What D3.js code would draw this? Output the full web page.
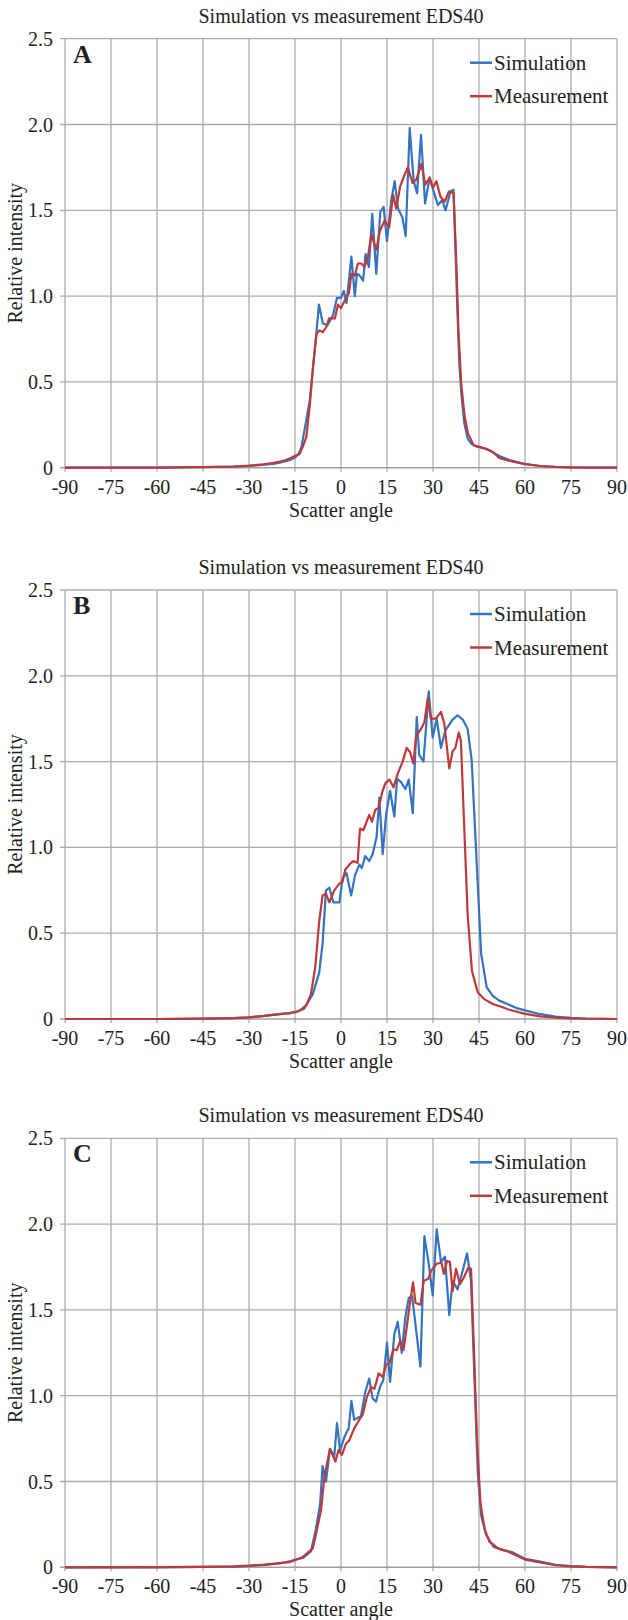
<!DOCTYPE html>
<html>
<head>
<meta charset="utf-8">
<script src="https://cdn.jsdelivr.net/npm/d3@7"></script>
<style>
  body { margin: 0; background: #fff; }
</style>
</head>
<body>
<div class="chart"></div>
<script>
const width = 628
const height = 1620

// axis ticks
const xTicks = [-90, -75, -60, -45, -30, -15, 0, 15, 30, 45, 60, 75, 90]
const yTicks = [0, 0.5, 1.0, 1.5, 2.0, 2.5]
const yTickLabels = ['0', '0.5', '1.0', '1.5', '2.0', '2.5']
const panelLetters = ['A', 'B', 'C']
const seriesNames = ['Simulation', 'Measurement']

// [scatter angle, relative intensity]
const simA = [[-90,0],[-75,0],[-60,0.001],[-45,0.003],[-35,0.006],[-30,0.01],[-25,0.018],[-22,0.022],[-20,0.03],[-18,0.038],[-16,0.05],[-15,0.06],[-14,0.075],[-12.9,0.12],[-11.5,0.26],[-10.2,0.39],[-9.1,0.59],[-8,0.79],[-7.2,0.95],[-5.9,0.84],[-4.4,0.83],[-2.6,0.89],[-1.3,0.99],[0,0.99],[0.9,1.03],[1.8,0.96],[3.4,1.23],[4.5,1.0],[5.2,1.13],[6.1,1.12],[7.2,1.09],[8,1.245],[9.1,1.17],[10.2,1.48],[11.5,1.13],[12.8,1.49],[13.9,1.52],[15,1.32],[16.4,1.56],[17.5,1.67],[18.6,1.51],[20,1.46],[21.1,1.35],[22.4,1.98],[23.7,1.67],[24.8,1.60],[26.1,1.94],[27.4,1.54],[28.9,1.69],[30.2,1.61],[31.6,1.53],[33,1.56],[34.1,1.50],[35.7,1.61],[36.7,1.62],[37.9,0.95],[38.6,0.6],[39.3,0.42],[40.2,0.26],[41.3,0.17],[42.5,0.14],[44,0.125],[45.5,0.12],[47,0.11],[48.5,0.1],[50,0.085],[52,0.065],[55,0.045],[58,0.03],[60,0.022],[65,0.01],[70,0.005],[75,0.002],[80,0.001],[90,0]]
const measA = [[-90,0],[-75,0],[-60,0.001],[-45,0.004],[-35,0.007],[-30,0.012],[-25,0.02],[-22,0.028],[-20,0.035],[-18,0.045],[-16,0.06],[-15,0.07],[-13.5,0.08],[-12.5,0.12],[-11.3,0.18],[-10.2,0.36],[-9.1,0.59],[-8,0.78],[-7,0.80],[-5.9,0.79],[-4.8,0.82],[-3.9,0.87],[-2,0.87],[-1,0.95],[0,0.93],[1.4,0.98],[2.6,1.02],[3.4,1.13],[4.5,1.12],[5.5,1.19],[6.6,1.19],[7.7,1.17],[8.8,1.23],[9.9,1.36],[11.5,1.27],[12.6,1.375],[14.2,1.44],[15.7,1.40],[17,1.59],[18,1.51],[19.3,1.64],[20.8,1.71],[21.8,1.75],[23.3,1.66],[24.6,1.68],[26.2,1.77],[27.5,1.65],[28.9,1.69],[30,1.63],[31.1,1.67],[32.4,1.58],[33.8,1.55],[35.2,1.61],[36.7,1.60],[37.6,1.2],[38.3,0.8],[39.2,0.49],[40.3,0.30],[41.4,0.2],[43.3,0.13],[45.2,0.12],[47.4,0.11],[49.6,0.09],[51.7,0.055],[55,0.04],[58,0.028],[60,0.02],[65,0.01],[70,0.004],[75,0.002],[80,0.001],[90,0]]

const simB = [[-90,0],[-60,0],[-45,0.002],[-35,0.005],[-30,0.01],[-25,0.018],[-20,0.028],[-17,0.035],[-14.7,0.04],[-12,0.06],[-9.2,0.145],[-7.1,0.27],[-6,0.44],[-4.9,0.75],[-3.8,0.765],[-2.5,0.68],[-0.5,0.68],[0.5,0.82],[1.8,0.85],[3.3,0.72],[4.6,0.84],[6,0.90],[6.8,0.88],[7.9,0.95],[9.2,0.92],[10.3,0.96],[11.6,1.06],[12.5,1.29],[13.6,0.96],[14.7,1.19],[16,1.33],[17.4,1.18],[18.3,1.40],[19.6,1.38],[21,1.34],[22.1,1.395],[23.4,1.20],[24.7,1.76],[25.5,1.54],[26.9,1.50],[28.6,1.91],[29.9,1.64],[31.2,1.75],[32.6,1.58],[34,1.68],[36.4,1.745],[38,1.77],[39.7,1.745],[41.3,1.69],[42.6,1.51],[44,1.0],[45.7,0.38],[47.5,0.185],[49.5,0.135],[51.6,0.107],[54.3,0.087],[57,0.065],[60,0.05],[65,0.028],[70,0.014],[75,0.007],[80,0.003],[90,0]]
const measB = [[-90,0],[-60,0],[-45,0.002],[-35,0.005],[-30,0.01],[-25,0.018],[-20,0.028],[-16.8,0.033],[-13.6,0.048],[-11.4,0.078],[-9.8,0.145],[-8.4,0.30],[-7.1,0.57],[-6,0.72],[-4.9,0.73],[-3.8,0.68],[-2.2,0.75],[-0.5,0.79],[0.5,0.80],[1.4,0.87],[2.7,0.90],[4,0.92],[5.4,0.91],[6.2,1.11],[7.3,1.10],[9.2,1.19],[10.1,1.15],[11.2,1.22],[12.3,1.23],[13.4,1.32],[14.5,1.375],[15.8,1.395],[17.1,1.35],[18.5,1.43],[20.1,1.50],[21.4,1.58],[22.5,1.556],[23.6,1.49],[24.5,1.65],[26.1,1.69],[27.2,1.73],[28.3,1.87],[29.3,1.75],[30.9,1.75],[32.6,1.79],[33.7,1.72],[35.3,1.46],[36.4,1.56],[37.3,1.58],[38.4,1.67],[39.1,1.62],[40.2,1.11],[41.3,0.61],[42.7,0.28],[44.6,0.155],[46.7,0.116],[49.5,0.087],[52.7,0.068],[54.9,0.054],[60,0.03],[65,0.015],[70,0.008],[75,0.003],[90,0]]

const simC = [[-90,0],[-60,0],[-45,0.002],[-35,0.004],[-30,0.008],[-25,0.014],[-20,0.022],[-16.8,0.035],[-12.5,0.054],[-9.8,0.093],[-8.2,0.22],[-6.8,0.37],[-6,0.59],[-4.9,0.50],[-3.6,0.69],[-2.2,0.645],[-1.3,0.84],[-0.3,0.68],[1.1,0.76],[2.5,0.81],[3.4,0.97],[4.3,0.86],[5.4,0.87],[6.5,0.88],[7.9,1.02],[9.2,1.10],[10.3,0.985],[11.4,0.965],[12.7,1.05],[13.8,1.09],[15,1.31],[16,1.08],[17.4,1.36],[18.5,1.43],[19.8,1.25],[21,1.46],[22.1,1.57],[23.2,1.58],[25.9,1.17],[27.2,1.93],[28.6,1.77],[29.9,1.585],[31.2,1.97],[32.6,1.78],[33.9,1.81],[35.3,1.47],[36.4,1.67],[38,1.62],[39.7,1.73],[41.1,1.83],[42.4,1.67],[43.5,1.11],[44.6,0.55],[45.7,0.30],[47.3,0.19],[49.7,0.12],[52.7,0.10],[55.5,0.09],[60,0.05],[65,0.033],[70,0.015],[75,0.007],[80,0.002],[90,0]]
const measC = [[-90,0],[-60,0.001],[-45,0.003],[-35,0.005],[-30,0.01],[-25,0.016],[-20,0.024],[-16.8,0.03],[-12.5,0.06],[-9.2,0.11],[-7.6,0.24],[-6.5,0.335],[-5.4,0.53],[-3.6,0.69],[-1.8,0.616],[-0.8,0.684],[0.3,0.655],[1.6,0.72],[2.7,0.74],[4.3,0.81],[6,0.86],[7.1,0.89],[8.4,0.99],[9.8,1.05],[10.9,1.04],[12.3,1.13],[13.6,1.11],[14.7,1.18],[15.8,1.19],[17.1,1.27],[18.2,1.265],[19.3,1.32],[20.4,1.265],[21.5,1.41],[22.6,1.556],[23.5,1.66],[24.3,1.54],[25.9,1.53],[27,1.67],[28.4,1.68],[29.5,1.73],[31.2,1.77],[32.8,1.775],[33.5,1.71],[34.6,1.785],[35.5,1.78],[36.4,1.61],[37.5,1.74],[38.8,1.65],[40.1,1.69],[41.5,1.746],[42.4,1.74],[43.3,1.30],[44.4,0.72],[45.5,0.37],[46.9,0.22],[48.4,0.15],[51.2,0.11],[54.4,0.093],[57,0.07],[60,0.045],[65,0.028],[70,0.012],[75,0.005],[80,0.002],[90,0]]

const panels = [
    {letter: panelLetters[0], sim: simA, meas: measA, top: 38.7},
    {letter: panelLetters[1], sim: simB, meas: measB, top: 590},
    {letter: panelLetters[2], sim: simC, meas: measC, top: 1138.3}
]

const colors = ['#3473c0', '#c0393a']
const serif = 'Liberation Serif, Times New Roman, serif'
const plotLeft = 65, plotRight = 617, plotH = 429

const svg = d3.select('.chart').append('svg')
    .attr('width', width)
    .attr('height', height)
    .attr('viewBox', [0, 0, width, height])
    .attr('font-family', serif)
    .attr('fill', '#222')

const x = d3.scaleLinear().domain([-90, 90]).range([plotLeft, plotRight])

panels.forEach(p => {
    const y = d3.scaleLinear().domain([0, 2.5]).range([p.top + plotH, p.top])
    const g = svg.append('g')

    // grid
    g.append('g').selectAll('line')
        .data(xTicks)
        .join('line')
        .attr('x1', d => x(d)).attr('x2', d => x(d))
        .attr('y1', y(2.5)).attr('y2', y(0) + 4)
        .attr('stroke', '#acacac')
        .attr('stroke-width', 1.3)

    g.append('g').selectAll('line')
        .data(yTicks)
        .join('line')
        .attr('x1', plotLeft - 5).attr('x2', plotRight)
        .attr('y1', d => y(d)).attr('y2', d => y(d))
        .attr('stroke', d => d === 0 ? '#a0a0a0' : '#acacac')
        .attr('stroke-width', d => d === 0 ? 1.6 : 1.3)

    // tick labels
    g.append('g').selectAll('text')
        .data(yTicks)
        .join('text')
        .attr('x', 53)
        .attr('y', d => y(d) + 7)
        .attr('text-anchor', 'end')
        .attr('font-size', 20)
        .text((d, i) => yTickLabels[i])

    g.append('g').selectAll('text')
        .data(xTicks)
        .join('text')
        .attr('x', d => x(d))
        .attr('y', y(0) + 26)
        .attr('text-anchor', 'middle')
        .attr('font-size', 20)
        .text(d => d)

    // titles
    g.append('text')
        .attr('x', (plotLeft + plotRight) / 2)
        .attr('y', p.top - 16)
        .attr('text-anchor', 'middle')
        .attr('font-size', 20)
        .text('Simulation vs measurement EDS40')

    g.append('text')
        .attr('x', (plotLeft + plotRight) / 2)
        .attr('y', y(0) + 49)
        .attr('text-anchor', 'middle')
        .attr('font-size', 20)
        .text('Scatter angle')

    g.append('text')
        .attr('transform', `translate(22, ${p.top + plotH / 2}) rotate(-90)`)
        .attr('text-anchor', 'middle')
        .attr('font-size', 20)
        .text('Relative intensity')

    g.append('text')
        .attr('x', 73)
        .attr('y', p.top + 24)
        .attr('font-size', 26)
        .attr('font-weight', 'bold')
        .text(p.letter)

    // series
    const line = d3.line()
        .x(d => x(d[0]))
        .y(d => y(d[1]))

    ;[p.sim, p.meas].forEach((s, i) => {
        g.append('path')
            .datum(s)
            .attr('fill', 'none')
            .attr('stroke', colors[i])
            .attr('stroke-width', 2.2)
            .attr('stroke-linejoin', 'round')
            .attr('d', line)
    })

    // legend
    const leg = g.append('g').selectAll('g')
        .data(seriesNames)
        .join('g')
        .attr('transform', (d, i) => `translate(470, ${p.top + 24 + i * 33.5})`)
    leg.append('line')
        .attr('x1', 0).attr('x2', 22)
        .attr('stroke', (d, i) => colors[i])
        .attr('stroke-width', 2.5)
    leg.append('text')
        .attr('x', 24)
        .attr('y', 7)
        .attr('font-size', 21)
        .text(d => d)
})
</script>
</body>
</html>
